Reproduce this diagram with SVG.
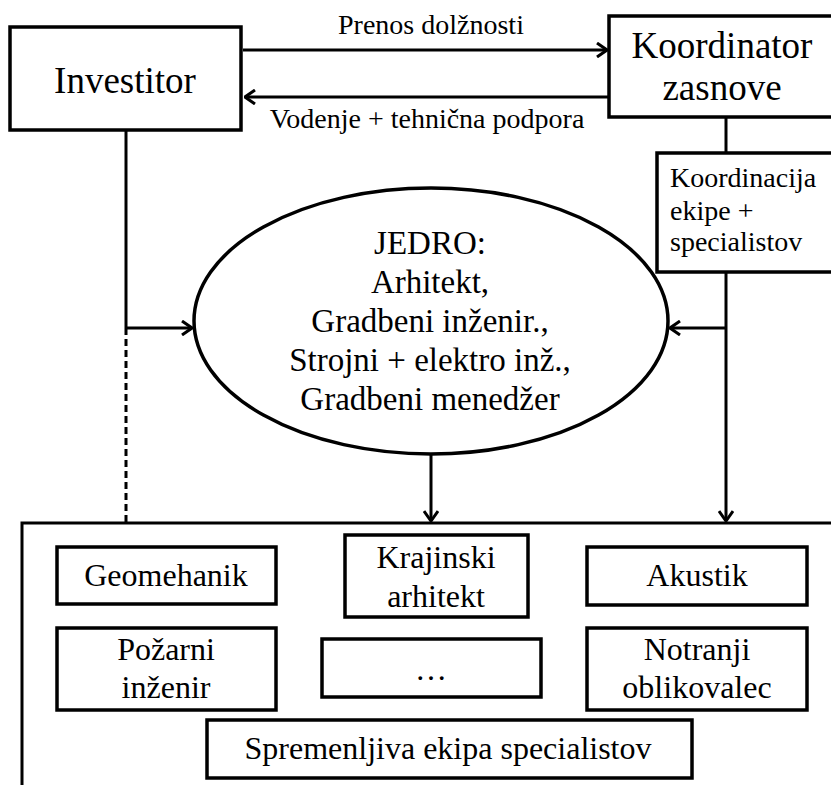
<svg xmlns="http://www.w3.org/2000/svg" width="831" height="785" viewBox="0 0 831 785">
<style>
.box{fill:#fff;stroke:#000;stroke-width:3.5}
.ln{fill:none;stroke:#000;stroke-width:3}
text{font-family:'Liberation Serif','Times New Roman',Tinos,'Noto Serif','DejaVu Serif',FreeSerif,serif;fill:#000;text-anchor:middle}
.big{font-size:37px}
.mid{font-size:33px}
.sm{font-size:28px}
.bx{font-size:32px}
.st{text-anchor:start}
</style>
<defs>
<marker id="ah" viewBox="0 0 12 16" refX="11" refY="8" markerWidth="12" markerHeight="16" markerUnits="userSpaceOnUse" orient="auto">
<path d="M1,1 L11,8 L1,15" fill="none" stroke="#000" stroke-width="3"/>
</marker>
</defs>
<rect width="831" height="785" fill="#fff"/>
<g id="connectors">
<line class="ln" x1="243" y1="50" x2="607" y2="50" marker-end="url(#ah)"/>
<line class="ln" x1="609" y1="97" x2="245" y2="97" marker-end="url(#ah)"/>
<line class="ln" x1="126" y1="130" x2="126" y2="328"/>
<line class="ln" x1="126" y1="328" x2="126" y2="523" stroke-dasharray="7,4"/>
<line class="ln" x1="126" y1="328" x2="192" y2="328" marker-end="url(#ah)"/>
<line class="ln" x1="726" y1="117" x2="726" y2="153"/>
<line class="ln" x1="726" y1="272" x2="726" y2="521" marker-end="url(#ah)"/>
<line class="ln" x1="726" y1="328" x2="670" y2="328" marker-end="url(#ah)"/>
<line class="ln" x1="431" y1="455" x2="431" y2="521" marker-end="url(#ah)"/>
</g>
<g id="investitor">
<rect class="box" x="10" y="27" width="231" height="103"/>
<text class="big" x="125" y="93">Investitor</text>
</g>
<g id="koordinator">
<rect class="box" x="609" y="16" width="224" height="101"/>
<text class="big" x="722" y="58">Koordinator</text>
<text class="big" x="722" y="100">zasnove</text>
</g>
<g id="label-prenos">
<text class="sm" x="431" y="34">Prenos dolžnosti</text>
</g>
<g id="label-vodenje">
<text class="sm" x="427" y="128">Vodenje + tehnična podpora</text>
</g>
<g id="koordinacija">
<rect class="box" x="657" y="153" width="176" height="119"/>
<text class="sm st" x="670" y="187">Koordinacija</text>
<text class="sm st" x="670" y="220">ekipe +</text>
<text class="sm st" x="670" y="251">specialistov</text>
</g>
<g id="jedro">
<ellipse class="box" cx="431" cy="321" rx="237" ry="133"/>
<text class="mid" x="430" y="254">JEDRO:</text>
<text class="mid" x="430" y="293">Arhitekt,</text>
<text class="mid" x="430" y="332">Gradbeni inženir.,</text>
<text class="mid" x="430" y="371">Strojni + elektro inž.,</text>
<text class="mid" x="430" y="410">Gradbeni menedžer</text>
</g>
<g id="ekipa">
<path class="ln" d="M22,787 L22,523 L833,523"/>
</g>
<g id="geomehanik">
<rect class="box" x="57" y="547" width="219" height="57"/>
<text class="bx" x="166" y="586">Geomehanik</text>
</g>
<g id="krajinski">
<rect class="box" x="345" y="535" width="183" height="82"/>
<text class="bx" x="436" y="568">Krajinski</text>
<text class="bx" x="436" y="607">arhitekt</text>
</g>
<g id="akustik">
<rect class="box" x="587" y="547" width="220" height="58"/>
<text class="bx" x="697" y="586">Akustik</text>
</g>
<g id="pozarni">
<rect class="box" x="57" y="628" width="219" height="82"/>
<text class="bx" x="166" y="660">Požarni</text>
<text class="bx" x="166" y="698">inženir</text>
</g>
<g id="dots">
<rect class="box" x="322" y="639" width="219" height="58"/>
<text class="bx" x="431" y="680">…</text>
</g>
<g id="notranji">
<rect class="box" x="587" y="628" width="220" height="82"/>
<text class="bx" x="697" y="660">Notranji</text>
<text class="bx" x="697" y="698">oblikovalec</text>
</g>
<g id="spremenljiva">
<rect class="box" x="207" y="720" width="485" height="58"/>
<text class="bx" x="448" y="759">Spremenljiva ekipa specialistov</text>
</g>
</svg>
